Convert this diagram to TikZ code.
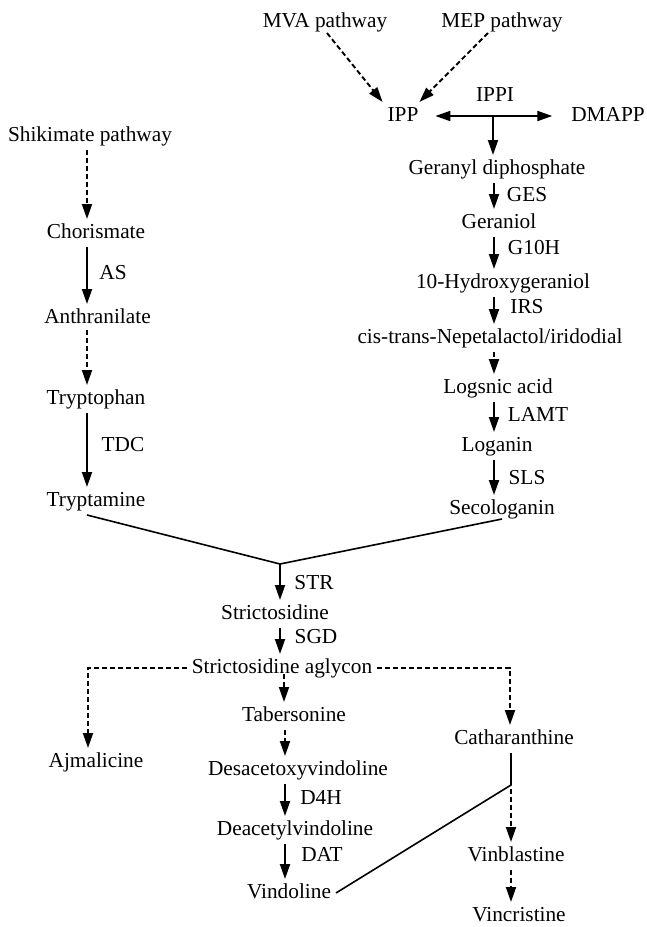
\documentclass[tikz,border=0pt]{standalone}
\usepackage{fontspec}
\setmainfont{Liberation Serif}
\usetikzlibrary{arrows.meta,calc}
\begin{document}
\begin{tikzpicture}[x=1pt,y=-1pt,
  every node/.style={font=\fontsize{21.3}{25}\selectfont, inner sep=0pt, outer sep=5pt, text height=14pt, text depth=4pt},
  tipA/.tip={Triangle[length=15pt,width=10pt]},
  arr/.style={line width=1.9pt, -tipA},
  darr/.style={line width=1.9pt, dash pattern=on 5pt off 3pt, -tipA},
  plainln/.style={line width=1.6pt},
]
\fill[white] (0,0) rectangle (646,927);
\useasboundingbox (0,0) rectangle (646,927);

% ---- nodes: top
\node (mva) at (325,22) {MVA pathway};
\node (mep) at (502,22) {MEP pathway};
\node (ipp) at (403,116) {IPP};
\node (ippi) at (495,96) {IPPI};
\node (dmapp) at (608,116) {DMAPP};
% right column
\node (gdp) at (497,169) {Geranyl diphosphate};
\node (ges) at (527,196) {GES};
\node (ger) at (499,223) {Geraniol};
\node (g10h) at (534,249) {G10H};
\node (hg) at (503,283) {10-Hydroxygeraniol};
\node (irs) at (527,308) {IRS};
\node (nep) at (490,338) {cis-trans-Nepetalactol/iridodial};
\node (la) at (498,388) {Logsnic acid};
\node (lamt) at (538,416) {LAMT};
\node (logn) at (497,446) {Loganin};
\node (sls) at (527,479) {SLS};
\node (seco) at (502,509) {Secologanin};
% left column
\node (shik) at (90,136) {Shikimate pathway};
\node (chor) at (96,233) {Chorismate};
\node (as) at (113,274) {AS};
\node (anth) at (97.5,318) {Anthranilate};
\node (trp) at (96,399) {Tryptophan};
\node (tdc) at (123,446) {TDC};
\node (trpt) at (96,501) {Tryptamine};
% lower part
\node (str) at (314,584) {STR};
\node (stri) at (275,614) {Strictosidine};
\node (sgd) at (316,638) {SGD};
\node (agl) at (282,668) {Strictosidine aglycon};
\node (tab) at (294,716) {Tabersonine};
\node (ajm) at (96,762) {Ajmalicine};
\node (cath) at (514,739) {Catharanthine};
\node (desac) at (298,770) {Desacetoxyvindoline};
\node (d4h) at (321,799) {D4H};
\node (deac) at (295,830) {Deacetylvindoline};
\node (dat) at (322,856) {DAT};
\node (vind) at (289,893) {Vindoline};
\node (vinb) at (516,856) {Vinblastine};
\node (vinc) at (519,916) {Vincristine};

% ---- helper coordinates
\coordinate (lx) at (87,0);
\coordinate (rx) at (494,0);
\coordinate (ippmid) at (493,115);
\coordinate (j) at (280,564);
\coordinate (mx) at (284,0);
\coordinate (bx) at (285,0);
\coordinate (ax) at (88,0);
\coordinate (cx) at (510,0);
\coordinate (cb) at (511,785);

% ---- top connectors
\draw[darr] ($(mva.south)+(2,-3)$) -- (ipp.north west);
\draw[darr] ($(mep.south)+(-14,-3)$) -- ($(ipp.north east)+(-4,0)$);
\draw[line width=1.9pt, tipA-tipA, shorten <=12pt, shorten >=14pt] (ipp.east) -- (dmapp.west);
\draw[arr] (ippmid) -- (gdp.north -| ippmid);

% right column
\draw[arr] (gdp.south -| rx) -- (ger.north -| rx);
\draw[arr] (ger.south -| rx) -- (hg.north -| rx);
\draw[arr] (hg.south -| rx) -- (nep.north -| rx);
\draw[darr] (nep.south -| rx) -- (la.north -| rx);
\draw[arr] (la.south -| rx) -- (logn.north -| rx);
\draw[arr] (logn.south -| rx) -- (seco.north -| rx);

% left column
\draw[darr] (shik.south -| lx) -- (chor.north -| lx);
\draw[arr] (chor.south -| lx) -- (anth.north -| lx);
\draw[darr, shorten <=-2pt] (anth.south -| lx) -- (trp.north -| lx);
\draw[arr] (trp.south -| lx) -- (trpt.north -| lx);

% merge
\draw[plainln] (trpt.south -| lx) -- (j);
\draw[plainln] ($(seco.south)+(0,-4)$) -- (j);
\draw[arr] (j) -- (stri.north -| j);
\draw[arr] (stri.south -| j) -- (agl.north -| j);

% branches from aglycon
\draw[darr] (agl.west) -- (agl.west -| ax) -- (ajm.north -| ax);
\draw[darr] (agl.east) -- (agl.east -| cx) -- (cath.north -| cx);
\draw[darr, shorten <=-8pt] (agl.south -| mx) -- (tab.north -| mx);

% vindoline branch
\draw[darr] (tab.south -| bx) -- (desac.north -| bx);
\draw[arr] (desac.south -| bx) -- (deac.north -| bx);
\draw[arr] (deac.south -| bx) -- (vind.north -| bx);

% catharanthine + vindoline
\draw[plainln] (cath.south -| cb) -- (cb) -- (vind.east);
\draw[darr, shorten <=4pt] (cb) -- (vinb.north -| cb);
\draw[darr] (vinb.south -| cb) -- (vinc.north -| cb);
\end{tikzpicture}
\end{document}
